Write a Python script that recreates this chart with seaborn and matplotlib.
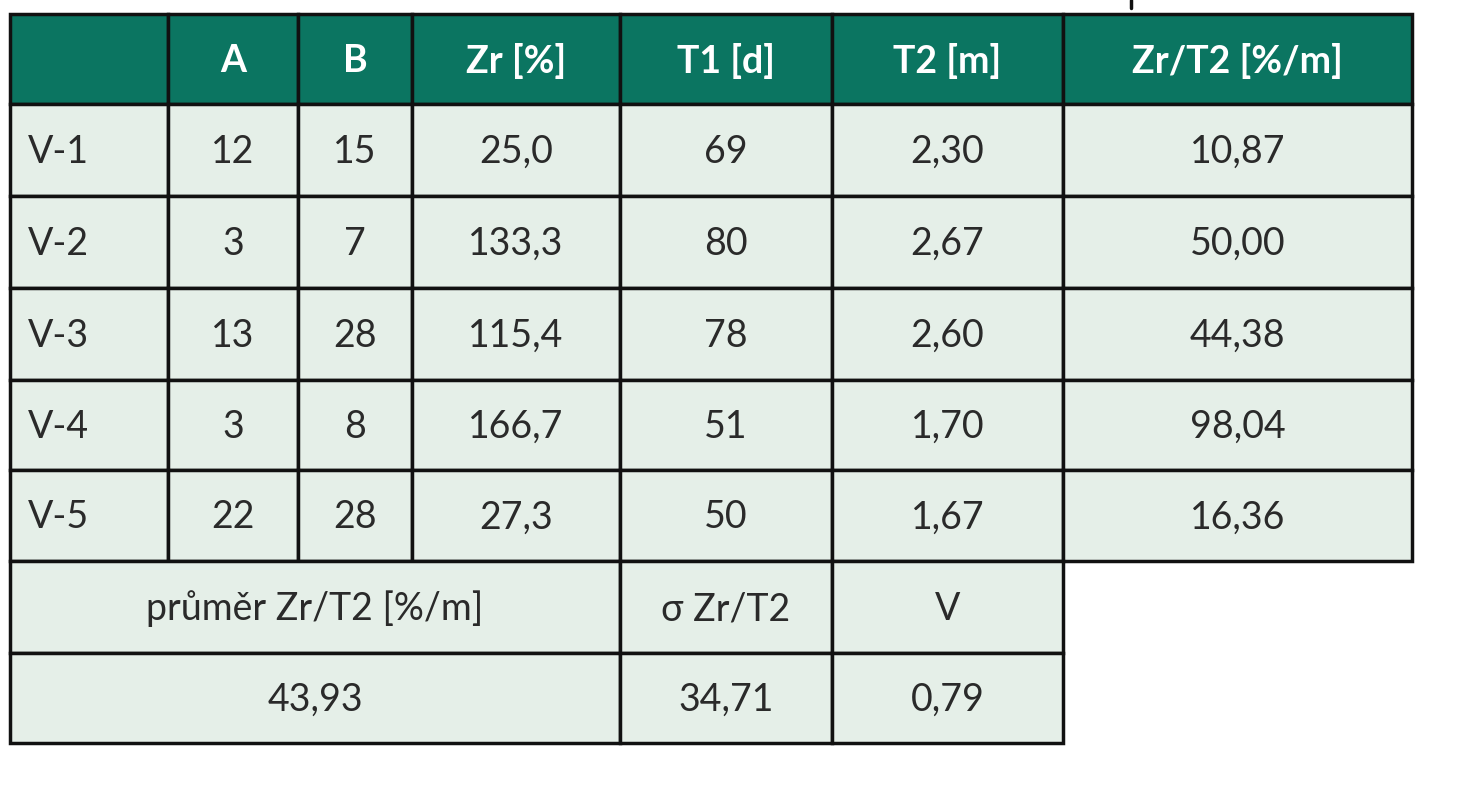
import matplotlib.pyplot as plt
import seaborn as sns
from matplotlib.patches import Rectangle

sns.set_theme(style="white")
plt.rcParams['font.family'] = ['Lato', 'DejaVu Sans']

headers = ["", "A", "B", "Zr [%]", "T1 [d]", "T2 [m]", "Zr/T2 [%/m]"]
row_names = ["V-1", "V-2", "V-3", "V-4", "V-5"]
col_a = ["12", "3", "13", "3", "22"]
col_b = ["15", "7", "28", "8", "28"]
col_zr = ["25,0", "133,3", "115,4", "166,7", "27,3"]
col_t1 = ["69", "80", "78", "51", "50"]
col_t2 = ["2,30", "2,67", "2,60", "1,70", "1,67"]
col_ratio = ["10,87", "50,00", "44,38", "98,04", "16,36"]
summary_labels = ["průměr Zr/T2 [%/m]", "σ Zr/T2", "V"]
summary_values = ["43,93", "34,71", "0,79"]

xs = [10, 168, 298, 412, 620, 832, 1063, 1412]
ys = [14, 104, 196, 288, 380, 470, 561, 653, 743]
green = "#0b7561"
fill = "#e5efe8"
txt = "#2a2a2a"

fig = plt.figure(figsize=(14.76, 8), dpi=100)
ax = fig.add_axes([0, 0, 1, 1])
ax.set_xlim(0, 1476)
ax.set_ylim(800, 0)
ax.axis("off")


def cell(x0, x1, y0, y1, text, bg, color, weight="normal"):
    ax.add_patch(Rectangle((x0, y0), x1 - x0, y1 - y0, facecolor=bg,
                           edgecolor="#111111", linewidth=2.5))
    ax.text((x0 + x1) / 2, (y0 + y1) / 2 + 2, text, ha="center", va="center",
            fontsize=27, color=color, fontweight=weight)


for j, h in enumerate(headers):
    cell(xs[j], xs[j + 1], ys[0], ys[1], h, green, "white", "bold")

columns = [row_names, col_a, col_b, col_zr, col_t1, col_t2, col_ratio]
for i in range(len(row_names)):
    for j, col in enumerate(columns):
        cell(xs[j], xs[j + 1], ys[i + 1], ys[i + 2], col[i], fill, txt)
        if j == 0:
            ax.texts[-1].set_ha("left")
            ax.texts[-1].set_x(xs[0] + 18)

spans = [(xs[0], xs[4]), (xs[4], xs[5]), (xs[5], xs[6])]
for (x0, x1), lab, val in zip(spans, summary_labels, summary_values):
    cell(x0, x1, ys[6], ys[7], lab, fill, txt)
    cell(x0, x1, ys[7], ys[8], val, fill, txt)

ax.plot([1131, 1131], [0, 8], color="#111111", linewidth=2.5)

fig.savefig("out.png", dpi=100)
